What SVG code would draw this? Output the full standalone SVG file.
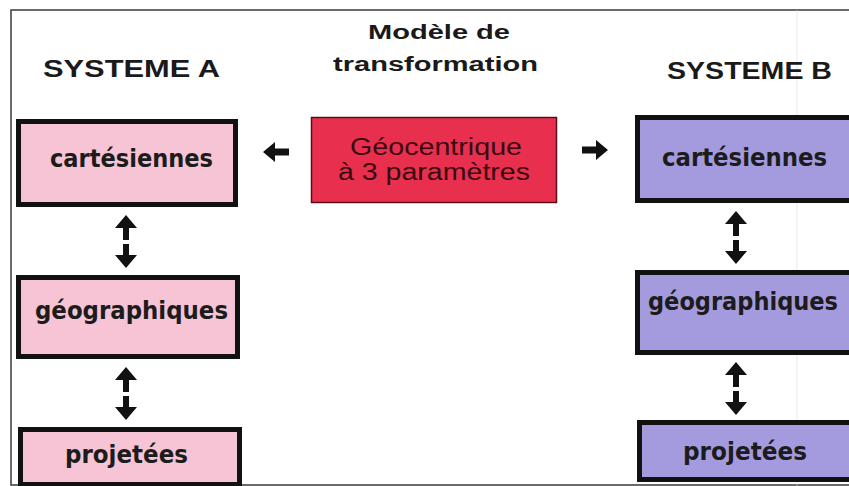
<svg xmlns="http://www.w3.org/2000/svg" xmlns:xlink="http://www.w3.org/1999/xlink" width="849" height="486" viewBox="0 0 849 486">
  <style>
    .title { font-family: "Liberation Sans", Arial, sans-serif; font-weight: bold; fill: #1a1a1a; }
    .lbl { font-family: "DejaVu Sans", Verdana, sans-serif; font-weight: bold; font-size: 24px; fill: #1c1c1c; }
    .boxA { fill: #f6c4d4; stroke: #111; stroke-width: 5; }
    .boxB { fill: #a49ade; stroke: #111; stroke-width: 5; }
    .model { fill: #e8304e; stroke: #5a0c18; stroke-width: 1.5; }
    .modelTxt { font-family: "Liberation Sans", Arial, sans-serif; font-size: 23px; fill: #3a0810; }
    .arrow { fill: #111; }
  </style>
  <defs>
    <!-- up/down double arrow, top at (0,0) -->
    <path id="updown" d="M0,0 L11,13 L3,13 L3,25 L-3,25 L-3,13 L-11,13 Z M-3,29 L3,29 L3,40 L11,40 L0,53 L-11,40 L-3,40 Z"/>
  </defs>

  <rect x="0" y="0" width="849" height="486" fill="#ffffff"/>
  <!-- outer frame -->
  <rect x="11" y="10" width="850" height="475" fill="none" stroke="#3a3a3a" stroke-width="1.5"/>
  <line x1="797" y1="10" x2="797" y2="486" stroke="#dcdcdc" stroke-width="1" opacity="0.6"/>

  <!-- column headings -->
  <g id="titles">
    <text class="title" x="43" y="77" font-size="23" textLength="177" lengthAdjust="spacingAndGlyphs">SYSTEME  A</text>
    <text class="title" x="368" y="39" font-size="20" textLength="142" lengthAdjust="spacingAndGlyphs">Modèle de</text>
    <text class="title" x="333" y="71" font-size="20" textLength="205" lengthAdjust="spacingAndGlyphs">transformation</text>
    <text class="title" x="667" y="79" font-size="23" textLength="165" lengthAdjust="spacingAndGlyphs">SYSTEME B</text>
  </g>

  <!-- system A -->
  <g id="a-cartesiennes">
    <rect class="boxA" x="18.5" y="121.5" width="217" height="83"/>
    <text class="lbl" x="50" y="167" textLength="163" lengthAdjust="spacingAndGlyphs">cartésiennes</text>
  </g>
  <g id="a-geographiques">
    <rect class="boxA" x="18.5" y="277.5" width="219" height="79"/>
    <text class="lbl" x="35" y="319" textLength="193" lengthAdjust="spacingAndGlyphs">géographiques</text>
  </g>
  <g id="a-projetees">
    <rect class="boxA" x="20.5" y="429.5" width="219" height="55"/>
    <text class="lbl" x="65" y="463" textLength="123" lengthAdjust="spacingAndGlyphs">projetées</text>
  </g>

  <!-- transformation model -->
  <g id="modele">
    <rect class="model" x="311.5" y="117.5" width="245" height="85"/>
    <text class="modelTxt" x="350" y="155" textLength="172" lengthAdjust="spacingAndGlyphs">Géocentrique</text>
    <text class="modelTxt" x="338" y="180" textLength="192" lengthAdjust="spacingAndGlyphs">à 3 paramètres</text>
  </g>

  <!-- system B -->
  <g id="b-cartesiennes">
    <rect class="boxB" x="637.5" y="117.5" width="230" height="83"/>
    <text class="lbl" x="662" y="166" textLength="165" lengthAdjust="spacingAndGlyphs">cartésiennes</text>
  </g>
  <g id="b-geographiques">
    <rect class="boxB" x="637.5" y="272.5" width="230" height="80"/>
    <text class="lbl" x="648" y="310" textLength="190" lengthAdjust="spacingAndGlyphs">géographiques</text>
  </g>
  <g id="b-projetees">
    <rect class="boxB" x="639.5" y="422.5" width="230" height="57"/>
    <text class="lbl" x="683" y="460" textLength="124" lengthAdjust="spacingAndGlyphs">projetées</text>
  </g>

  <!-- connectors -->
  <g id="connectors" class="arrow">
    <path d="M263,152 L275,142 L275,148.5 L289,148.5 L289,155.5 L275,155.5 L275,162 Z"/>
    <path d="M608,150 L596,140 L596,146.5 L582,146.5 L582,153.5 L596,153.5 L596,160 Z"/>
    <use xlink:href="#updown" transform="translate(126,215)"/>
    <use xlink:href="#updown" transform="translate(126,367)"/>
    <use xlink:href="#updown" transform="translate(736,211)"/>
    <use xlink:href="#updown" transform="translate(736,362)"/>
  </g>
</svg>
